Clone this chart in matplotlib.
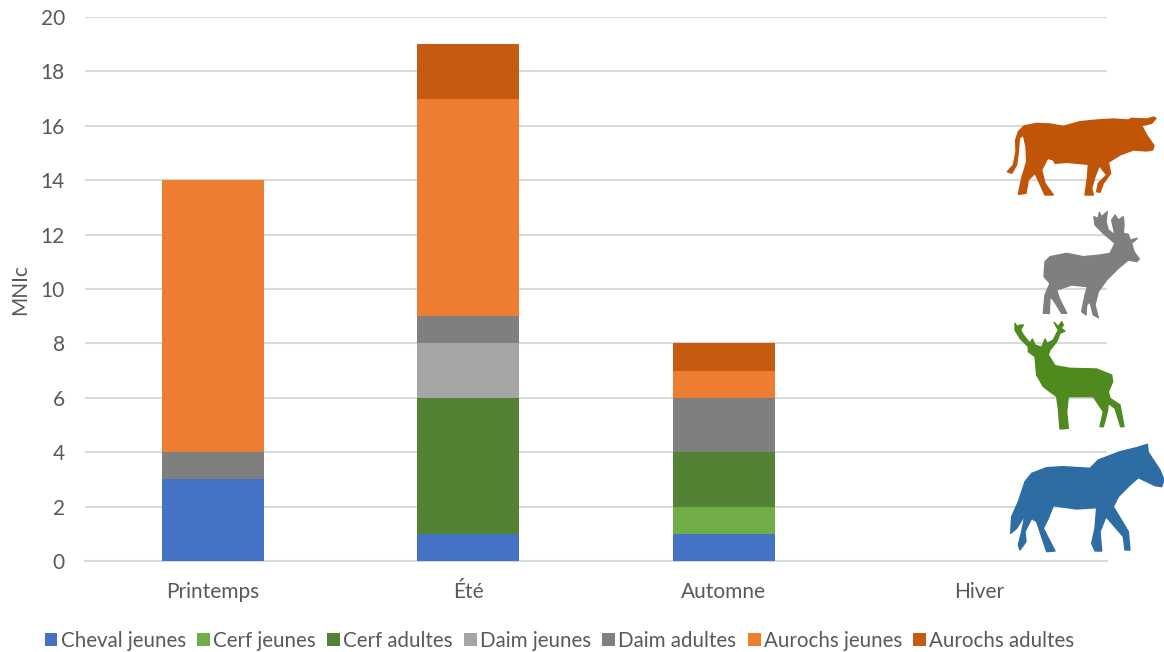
import matplotlib
matplotlib.use('Agg')
import matplotlib.pyplot as plt
from matplotlib.patches import Polygon
import numpy as np

saisons = ['Printemps', 'Été', 'Automne', 'Hiver']
series = ['Cheval jeunes', 'Cerf jeunes', 'Cerf adultes', 'Daim jeunes',
          'Daim adultes', 'Aurochs jeunes', 'Aurochs adultes']
cheval_jeunes = [3, 1, 1, 0]
cerf_jeunes = [0, 0, 1, 0]
cerf_adultes = [0, 5, 2, 0]
daim_jeunes = [0, 2, 0, 0]
daim_adultes = [1, 1, 2, 0]
aurochs_jeunes = [10, 8, 1, 0]
aurochs_adultes = [0, 2, 1, 0]
couleurs = ['#4472C4', '#70AD47', '#548235', '#A5A5A5', '#7F7F7F', '#ED7D31', '#C55A11']

# silhouettes, traced by hand (pixels of the zoomed crops, 3x)
aurochs = [(22,200),(40,180),(48,140),(47,105),(55,80),(72,63),(110,55),(150,57),(190,64),(240,50),
           (290,45),(340,42),(385,45),(395,40),(440,42),(462,36),(468,40),(455,55),(425,62),(440,90),
           (462,122),(458,135),(440,138),(400,135),(360,150),(325,172),(332,205),(310,235),(300,262),
           (290,260),(295,235),(320,210),(298,182),(285,215),(275,250),(280,270),(255,270),(262,220),
           (265,178),(200,172),(165,175),(160,165),(143,160),(125,195),(135,235),(160,270),(135,270),
           (105,205),(85,225),(78,265),(55,268),(65,220),(80,170),(78,125),(70,90),(58,100),(55,140),
           (50,180),(35,205)]
daim = [(132,515),(135,470),(150,455),(200,445),(250,455),(300,450),(330,445),(345,415),(310,385),
        (285,360),(282,335),(295,340),(298,322),(305,335),(322,320),(318,350),(325,375),(345,390),
        (335,345),(345,330),(355,345),(370,335),(372,360),(370,385),(385,388),(390,405),(412,400),
        (395,415),(402,440),(418,462),(410,470),(385,465),(355,490),(320,525),(295,560),(285,600),
        (295,638),(280,630),(270,590),(260,600),(258,630),(245,620),(255,570),(262,545),(215,540),
        (170,555),(178,580),(200,625),(185,625),(160,585),(150,575),(148,625),(130,625),(135,570),(150,535)]
cerf = [(45,25),(52,35),(60,30),(70,30),(62,45),(70,60),(90,85),(97,72),(105,90),(125,97),(135,72),
        (142,85),(160,75),(175,45),(162,22),(175,35),(185,20),(190,30),(183,40),(195,48),(180,55),
        (170,80),(150,105),(145,120),(165,152),(210,160),(290,162),(335,180),(338,200),(325,230),
        (330,250),(360,270),(372,335),(362,335),(345,280),(325,265),(322,290),(310,335),(300,335),
        (310,290),(280,245),(205,245),(200,290),(205,340),(180,342),(175,280),(170,245),(130,215),
        (110,180),(105,125),(85,110),(85,95),(60,70),(45,45)]
cheval = [(32,655),(35,605),(55,560),(75,500),(95,475),(140,458),(190,455),(270,460),(295,435),
          (360,410),(410,398),(442,388),(445,412),(480,465),(492,495),(485,515),(465,512),(415,488),
          (390,510),(355,545),(340,575),(385,650),(390,705),(375,705),(370,665),(318,605),(300,650),
          (305,708),(285,708),(275,685),(285,640),(290,578),(230,582),(160,572),(145,610),(130,640),
          (165,708),(140,710),(110,620),(95,610),(75,650),(78,680),(60,705),(55,690),(65,650),(75,600),(50,640)]

plt.rcParams['font.family'] = ['Lato', 'DejaVu Sans']

W, H = 1164, 652
fig = plt.figure(figsize=(W / 100, H / 100), dpi=100)
ax = fig.add_axes([85 / W, 1 - 561 / H, (1107 - 85) / W, (561 - 17) / H])

# --- stacked bars ---
x = np.arange(len(saisons))
bas = np.zeros(len(saisons))
valeurs = [cheval_jeunes, cerf_jeunes, cerf_adultes, daim_jeunes,
           daim_adultes, aurochs_jeunes, aurochs_adultes]
for nom, vals, coul in zip(series, valeurs, couleurs):
    ax.bar(x, vals, 0.4, bottom=bas, color=coul, label=nom, zorder=3)
    bas += np.array(vals)

ax.set_xlim(-0.5, 3.5)
ax.set_ylim(0, 20)
ax.set_yticks(range(0, 21, 2))
ax.set_xticks(x)
ax.set_xticklabels(saisons)
ax.yaxis.grid(True, color='#D9D9D9', linewidth=1.5, zorder=0)
ax.set_axisbelow(True)
for s in ['top', 'right', 'left']:
    ax.spines[s].set_visible(False)
ax.spines['bottom'].set_color('#D9D9D9')
ax.spines['bottom'].set_linewidth(1.5)
ax.tick_params(axis='both', length=0, labelsize=15, labelcolor='#595959')
ax.tick_params(axis='x', pad=15)
ax.tick_params(axis='y', pad=14.5)
fig.text(20 / W, 1 - 290 / H, 'MNIc', rotation=90, ha='center', va='center',
         fontsize=15, color='#595959')

ax.legend(loc='center', bbox_to_anchor=(559.5 / W, 1 - 641 / H), bbox_transform=fig.transFigure,
          ncol=7, frameon=False, fontsize=14.8, labelcolor='#595959',
          handlelength=0.62, handleheight=0.62, handletextpad=0.15, columnspacing=0.56)

# --- silhouettes, overlay in image pixels ---
over = fig.add_axes([0, 0, 1, 1], facecolor='none')
over.set_xlim(0, W)
over.set_ylim(H, 0)
over.axis('off')
for pts, y0, coul in [(aurochs, 105, '#C05507'), (daim, 105, '#7F7F7F'),
                      (cerf, 315, '#4E8A1E'), (cheval, 315, '#2E6DA4')]:
    xy = [(1000 + px / 3, y0 + py / 3) for px, py in pts]
    over.add_patch(Polygon(xy, closed=True, facecolor=coul, edgecolor=coul,
                           linewidth=1.0, joinstyle='round'))

plt.savefig('out.png', dpi=100)
